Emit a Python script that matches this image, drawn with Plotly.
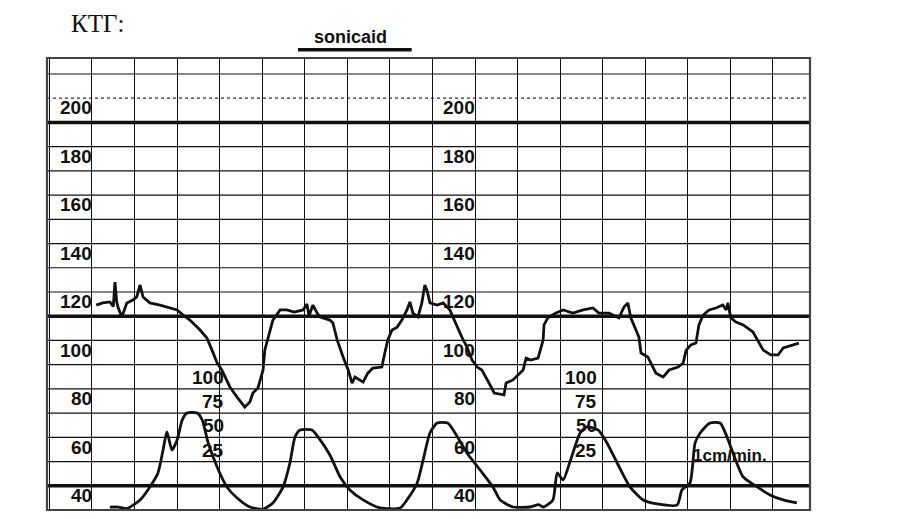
import plotly.graph_objects as go

# ---------------- data ----------------
# Fetal heart rate trace: time (min, 1 cm/min grid) and bpm
fhr_t = [0.10, 0.25, 0.42, 0.50, 0.54, 0.58, 0.61, 0.70, 0.82, 0.96, 1.05, 1.13, 1.20, 1.36,
         1.60, 1.83, 2.00, 2.14, 2.30, 2.54, 2.70, 2.82, 2.94, 3.05, 3.13, 3.24, 3.41, 3.59,
         3.71, 3.78, 3.90, 4.02, 4.06, 4.14, 4.25, 4.42, 4.58, 4.75, 4.96, 5.05, 5.10, 5.19,
         5.30, 5.36, 5.59, 5.66, 5.76, 5.90, 6.02, 6.11, 6.18, 6.37, 6.48, 6.60, 6.81, 6.88,
         6.95, 7.05, 7.17, 7.28, 7.40, 7.47, 7.54, 7.66, 7.75, 7.82, 7.87, 7.94, 8.11, 8.25,
         8.41, 8.48, 8.58, 8.69, 8.81, 8.93, 9.05, 9.16, 9.33, 9.45, 9.68, 9.73, 9.89, 10.01,
         10.13, 10.20, 10.31, 10.48, 10.60, 10.62, 10.71, 10.90, 11.07, 11.30, 11.54, 11.77,
         11.91, 12.15, 12.38, 12.50, 12.59, 12.66, 12.78, 12.85, 12.90, 13.06, 13.25, 13.42,
         13.56, 13.77, 13.89, 13.96, 14.07, 14.19, 14.26, 14.36, 14.50, 14.66, 14.82, 14.90,
         14.94, 15.01, 15.13, 15.30, 15.53, 15.65, 15.77, 15.95, 16.12, 16.24, 16.47, 16.61]
fhr_bpm = [124.6, 125.5, 125.9, 124.0, 134.1, 126.0, 123.8, 119.7, 125.5, 126.7, 128.0, 132.9,
           127.9, 125.5, 124.6, 123.4, 122.6, 120.5, 118.4, 114.3, 111.0, 106.0, 100.7, 97.8,
           94.9, 90.8, 86.6, 82.5, 84.6, 88.3, 90.4, 97.8, 106.0, 111.4, 118.4, 122.6, 122.6,
           121.7, 122.6, 125.0, 120.0, 124.6, 121.0, 119.7, 118.4, 117.2, 110.2, 103.2, 97.8,
           92.4, 94.9, 92.8, 96.5, 98.6, 99.0, 104.8, 110.2, 114.3, 115.5, 118.4, 122.6, 125.9,
           121.3, 119.7, 125.5, 132.9, 130.8, 125.5, 124.6, 125.5, 122.6, 119.7, 115.5, 111.4,
           107.3, 101.9, 99.0, 97.8, 92.4, 88.3, 87.5, 92.4, 93.7, 95.7, 97.8, 102.7, 101.9,
           102.7, 110.2, 116.4, 119.3, 121.3, 122.6, 121.3, 122.6, 123.4, 121.3, 121.3, 119.3,
           123.8, 125.5, 119.3, 114.3, 111.4, 104.8, 103.2, 96.5, 94.9, 97.8, 99.0, 100.7,
           106.0, 108.1, 108.9, 116.4, 120.5, 122.6, 123.4, 124.6, 122.6, 125.5, 119.3, 117.6,
           116.4, 113.5, 109.5, 106.0, 104.0, 104.0, 106.9, 108.1, 108.9]

# Uterine activity (toco) trace: time (min) and units
toco_t = [0.42, 0.62, 0.82, 1.13, 1.36, 1.55, 1.67, 1.76, 1.88, 2.00, 2.12, 2.23, 2.47, 2.59,
          2.73, 2.94, 3.17, 3.41, 3.71, 4.02, 4.25, 4.49, 4.65, 4.77, 4.89, 5.17, 5.31, 5.59,
          5.83, 6.06, 6.37, 6.77, 7.24, 7.40, 7.64, 7.78, 7.94, 8.11, 8.36, 8.53, 8.81, 9.12,
          9.42, 9.59, 9.89, 10.29, 10.50, 10.60, 10.83, 10.93, 11.07, 11.23, 11.47, 11.63,
          11.89, 12.10, 12.34, 12.64, 12.95, 13.28, 13.75, 13.86, 14.05, 14.17, 14.29, 14.52,
          14.76, 14.92, 15.06, 15.30, 15.63, 15.93, 16.24, 16.56]
toco_val = [-22.0, -22.0, -23.5, -14.6, -1.2, 13.2, 37.0, 55.5, 37.0, 47.3, 67.9, 75.1, 75.1,
            67.9, 44.2, 19.4, -1.2, -12.6, -21.9, -24.0, -17.7, -1.2, 23.5, 50.4, 57.6, 57.6,
            50.4, 31.8, 9.1, -4.3, -14.6, -22.9, -22.9, -14.6, 2.9, 26.6, 54.5, 64.8, 64.8,
            54.5, 33.9, 16.3, -1.2, -14.6, -21.9, -21.9, -19.5, -21.9, -14.6, 13.2, 6.0, 24.6,
            54.5, 60.7, 57.6, 44.2, 23.5, -1.2, -14.6, -18.8, -19.8, -4.3, 2.9, 44.2, 54.5,
            64.8, 64.8, 50.4, 33.9, 9.1, -1.2, -9.5, -14.6, -17.7]

# Paper scale
grid_bpm = [40, 50, 60, 70, 80, 90, 100, 110, 120, 130, 140, 150, 160, 170, 180, 190, 200, 210, 220]
bold_bpm = [200, 120, 50]
dotted_bpm = [210]
bpm_labels = [200, 180, 160, 140, 120, 100, 80, 60, 40]
bpm_label_cols = [0, 9]
toco_labels = [100, 75, 50, 25]
toco_label_cols = [3.12, 11.9]

X_RANGE = [-1.057, 16.87]
Y_RANGE = [40, 226.6]
TOCO_RANGE = [(Y_RANGE[0] - 50) * 2.5, (Y_RANGE[1] - 50) * 2.5]

INK = "#111111"
LBL_FONT = dict(family="Liberation Sans, Arial, sans-serif", size=19, color=INK)

fig = go.Figure()
fig.add_trace(go.Scatter(x=toco_t, y=toco_val, mode="lines", yaxis="y2",
                         line=dict(color=INK, width=2.8, shape="spline", smoothing=0.6),
                         hoverinfo="skip", showlegend=False))
fig.add_trace(go.Scatter(x=fhr_t, y=fhr_bpm, mode="lines",
                         line=dict(color=INK, width=2.8),
                         hoverinfo="skip", showlegend=False))

shapes = []
for v in grid_bpm:
    if v in bold_bpm:
        continue
    shapes.append(dict(type="line", xref="paper", yref="y", x0=0, x1=1, y0=v, y1=v,
                       line=dict(color="#333333" if v in dotted_bpm else INK,
                                 width=1.2, dash="dot" if v in dotted_bpm else "solid"),
                       layer="below"))
for v in bold_bpm:
    shapes.append(dict(type="line", xref="paper", yref="y", x0=0, x1=1, y0=v, y1=v,
                       line=dict(color=INK, width=3.6), layer="below"))
# frame
shapes.append(dict(type="rect", xref="paper", yref="paper", x0=0, x1=1, y0=0, y1=1,
                   line=dict(color="#444444", width=2.2)))
# underline of the brand name
shapes.append(dict(type="line", xref="paper", yref="paper", x0=0.329, x1=0.478,
                   y0=1.018, y1=1.018, line=dict(color=INK, width=3.5)))

annotations = []
for col in bpm_label_cols:
    for v in bpm_labels:
        annotations.append(dict(x=col, y=v, xref="x", yref="y", text="<b>%d</b>" % v,
                                showarrow=False, xanchor="right", yanchor="bottom",
                                yshift=3, xshift=1, font=LBL_FONT, borderpad=0))
for col in toco_label_cols:
    for v in toco_labels:
        annotations.append(dict(x=col, y=v, xref="x", yref="y2", text="<b>%d</b>" % v,
                                showarrow=False, xanchor="right", yanchor="bottom", yshift=0,
                                font=LBL_FONT, borderpad=0))
annotations.append(dict(x=0.03, y=1.077, xref="paper", yref="paper", text="КТГ:",
                        showarrow=False, xanchor="left", yanchor="middle", borderpad=0,
                        font=dict(family="Liberation Serif, Times New Roman, serif",
                                  size=25, color=INK)))
annotations.append(dict(x=0.398, y=1.046, xref="paper", yref="paper", text="<b>sonicaid</b>",
                        showarrow=False, xanchor="center", yanchor="middle",
                        font=dict(family="Liberation Sans, Arial, sans-serif", size=18,
                                  color=INK)))
annotations.append(dict(x=15.0, y=62.7, xref="x", yref="y", text="<b>1cm/min.</b>",
                        showarrow=False, xanchor="center", yanchor="middle",
                        font=dict(family="Liberation Sans Narrow, Arial Narrow, sans-serif",
                                  size=17, color=INK)))

# page body has an 8 px margin, so the figure is sized to fit inside it
fig.update_layout(
    width=900, height=503,
    margin=dict(l=39, r=98, t=50, b=1),
    paper_bgcolor="white", plot_bgcolor="white",
    xaxis=dict(range=X_RANGE, dtick=1, tick0=0, showgrid=True, gridcolor=INK, gridwidth=1.2,
               showticklabels=False, zeroline=False, showline=False, ticks=""),
    yaxis=dict(range=Y_RANGE, showgrid=False, showticklabels=False, zeroline=False,
               showline=False, ticks=""),
    yaxis2=dict(range=TOCO_RANGE, overlaying="y", visible=False),
    shapes=shapes,
    annotations=annotations,
)

fig.write_html("out.html")
